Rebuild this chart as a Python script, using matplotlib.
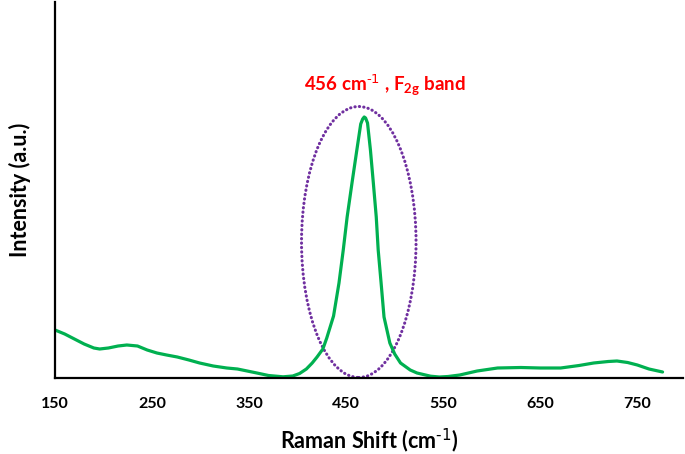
import matplotlib.pyplot as plt
from matplotlib.patches import Ellipse

# Raman spectrum (shift in cm-1, intensity in a.u.)
shift = [150, 160, 170, 180, 190, 196, 205, 215, 224, 235, 245, 255, 265, 276,
         288, 299, 313, 327, 338, 348, 358, 370, 385, 395, 402, 409, 415, 420,
         426, 430, 437, 442.6, 447, 451, 456, 461, 465, 467, 468.6, 470, 472,
         475, 478, 481, 483, 486, 489, 495, 500, 506, 516, 523, 537, 546, 555,
         567, 585, 606, 630, 650, 671, 690, 705, 720, 729, 740, 750, 762, 776]
intensity = [48, 44, 39, 34, 30, 29, 30, 32, 33, 32, 28, 25, 23, 21,
             18, 15, 12, 10, 9, 7, 5, 2.5, 1.2, 2, 4.5, 9, 15, 21,
             29, 40, 62, 95, 128, 161, 195, 228, 254, 259, 261, 260, 255,
             228, 195, 161, 128, 95, 61, 35, 24, 15, 8, 5, 1.8, 1, 1.5,
             3, 7, 10, 10.5, 10, 10, 12.5, 15, 16.5, 17, 15.5, 13, 9, 6]

xticks = [150, 250, 350, 450, 550, 650, 750]

# highlighted F2g band region
band_center = (463, 136)
band_width = 118
band_height = 271

plt.rcParams['font.family'] = ['Lato', 'DejaVu Sans']
plt.rcParams['mathtext.default'] = 'regular'

fig = plt.figure(figsize=(6.85, 4.54), dpi=100)
ax = fig.add_axes([0.0803, 0.1674, 0.9167, 0.8282])

ax.plot(shift, intensity, color='#00B050', linewidth=2.3, solid_capstyle='round')

ell = Ellipse(band_center, band_width, band_height, fill=False,
              edgecolor='#7030A0', linewidth=2.2, linestyle=(0, (0.1, 1.35)))
ell.set_capstyle('round')
ax.add_patch(ell)

ax.text(490, 293, r'456 cm$^{\text{-1}}$ , F$_{2g}$ band', color='#FF0000',
        fontsize=13.5, fontweight='bold', ha='center', va='center')

ax.set_xlim(150, 797)
ax.set_ylim(0, 376)
ax.set_xticks(xticks)
ax.set_xticklabels([str(t) for t in xticks], fontsize=11.5, fontweight='bold')
ax.set_yticks([])
ax.tick_params(axis='x', length=0, pad=14)

for side in ['top', 'right']:
    ax.spines[side].set_visible(False)
for side in ['left', 'bottom']:
    ax.spines[side].set_linewidth(1.6)
    ax.spines[side].set_color('black')

ax.set_xlabel(r'Raman Shift (cm$^{\text{-1}}$)', fontsize=15.5, fontweight='bold', labelpad=11)
ax.set_ylabel('Intensity (a.u.)', fontsize=15.5, fontweight='bold', labelpad=17)

fig.savefig('out.png', dpi=100)
